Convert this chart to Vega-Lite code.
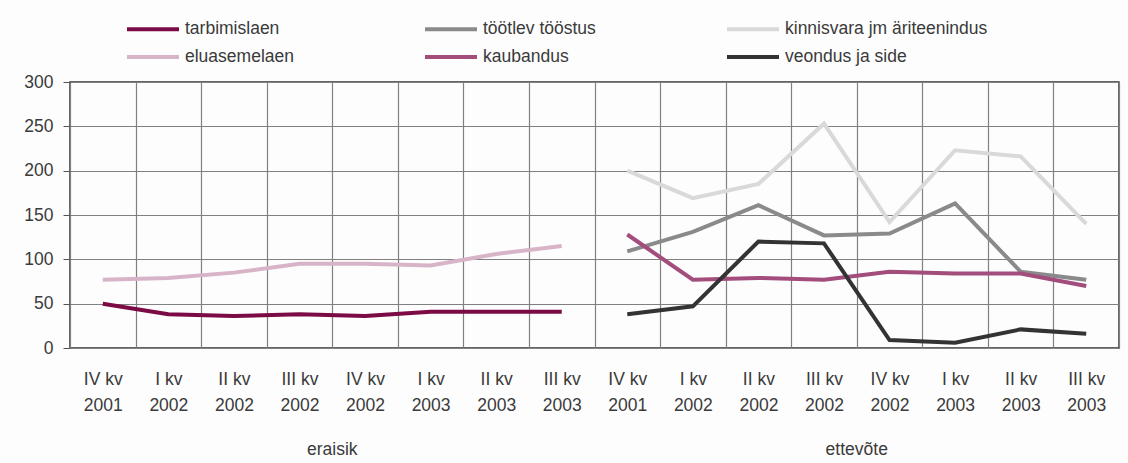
{
  "$schema": "https://vega.github.io/schema/vega-lite/v6.json",
  "width": 1049,
  "height": 266,
  "autosize": {"type": "none"},
  "padding": {"left": 70, "top": 82, "right": 9, "bottom": 115},
  "background": "#fdfdfd",
  "config": {
    "font": "Liberation Sans",
    "view": {"stroke": "#333333", "strokeWidth": 1.5},
    "axis": {"labelFont": "Liberation Sans", "labelFontSize": 17.5, "labelColor": "#3a3a3a", "domain": false, "gridColor": "#808080", "gridOpacity": 1, "gridWidth": 1.2},
    "legend": {"labelFont": "Liberation Sans", "labelFontSize": 17.5, "labelColor": "#3a3a3a"}
  },
  "datasets": {
    "lines": [
      {"series": "tarbimislaen", "k": "e|IV kv|2001", "v": 50},
      {"series": "tarbimislaen", "k": "e|I kv|2002", "v": 38},
      {"series": "tarbimislaen", "k": "e|II kv|2002", "v": 36},
      {"series": "tarbimislaen", "k": "e|III kv|2002", "v": 38},
      {"series": "tarbimislaen", "k": "e|IV kv|2002", "v": 36},
      {"series": "tarbimislaen", "k": "e|I kv|2003", "v": 41},
      {"series": "tarbimislaen", "k": "e|II kv|2003", "v": 41},
      {"series": "tarbimislaen", "k": "e|III kv|2003", "v": 41},
      {"series": "eluasemelaen", "k": "e|IV kv|2001", "v": 77},
      {"series": "eluasemelaen", "k": "e|I kv|2002", "v": 79},
      {"series": "eluasemelaen", "k": "e|II kv|2002", "v": 85},
      {"series": "eluasemelaen", "k": "e|III kv|2002", "v": 95},
      {"series": "eluasemelaen", "k": "e|IV kv|2002", "v": 95},
      {"series": "eluasemelaen", "k": "e|I kv|2003", "v": 93},
      {"series": "eluasemelaen", "k": "e|II kv|2003", "v": 106},
      {"series": "eluasemelaen", "k": "e|III kv|2003", "v": 115},
      {"series": "kinnisvara jm äriteenindus", "k": "t|IV kv|2001", "v": 200},
      {"series": "kinnisvara jm äriteenindus", "k": "t|I kv|2002", "v": 169},
      {"series": "kinnisvara jm äriteenindus", "k": "t|II kv|2002", "v": 185},
      {"series": "kinnisvara jm äriteenindus", "k": "t|III kv|2002", "v": 253},
      {"series": "kinnisvara jm äriteenindus", "k": "t|IV kv|2002", "v": 142},
      {"series": "kinnisvara jm äriteenindus", "k": "t|I kv|2003", "v": 223},
      {"series": "kinnisvara jm äriteenindus", "k": "t|II kv|2003", "v": 216},
      {"series": "kinnisvara jm äriteenindus", "k": "t|III kv|2003", "v": 140},
      {"series": "töötlev tööstus", "k": "t|IV kv|2001", "v": 109},
      {"series": "töötlev tööstus", "k": "t|I kv|2002", "v": 131},
      {"series": "töötlev tööstus", "k": "t|II kv|2002", "v": 161},
      {"series": "töötlev tööstus", "k": "t|III kv|2002", "v": 127},
      {"series": "töötlev tööstus", "k": "t|IV kv|2002", "v": 129},
      {"series": "töötlev tööstus", "k": "t|I kv|2003", "v": 163},
      {"series": "töötlev tööstus", "k": "t|II kv|2003", "v": 86},
      {"series": "töötlev tööstus", "k": "t|III kv|2003", "v": 77},
      {"series": "kaubandus", "k": "t|IV kv|2001", "v": 128},
      {"series": "kaubandus", "k": "t|I kv|2002", "v": 77},
      {"series": "kaubandus", "k": "t|II kv|2002", "v": 79},
      {"series": "kaubandus", "k": "t|III kv|2002", "v": 77},
      {"series": "kaubandus", "k": "t|IV kv|2002", "v": 86},
      {"series": "kaubandus", "k": "t|I kv|2003", "v": 84},
      {"series": "kaubandus", "k": "t|II kv|2003", "v": 84},
      {"series": "kaubandus", "k": "t|III kv|2003", "v": 70},
      {"series": "veondus ja side", "k": "t|IV kv|2001", "v": 38},
      {"series": "veondus ja side", "k": "t|I kv|2002", "v": 47},
      {"series": "veondus ja side", "k": "t|II kv|2002", "v": 120},
      {"series": "veondus ja side", "k": "t|III kv|2002", "v": 118},
      {"series": "veondus ja side", "k": "t|IV kv|2002", "v": 9},
      {"series": "veondus ja side", "k": "t|I kv|2003", "v": 6},
      {"series": "veondus ja side", "k": "t|II kv|2003", "v": 21},
      {"series": "veondus ja side", "k": "t|III kv|2003", "v": 16}
    ],
    "groups": [
      {"group": "eraisik", "k": "e|III kv|2002"},
      {"group": "ettevõte", "k": "t|III kv|2002"}
    ]
  },
  "encoding": {
    "x": {
      "field": "k",
      "type": "nominal",
      "scale": {
        "type": "band",
        "paddingInner": 0,
        "paddingOuter": 0,
        "domain": ["e|IV kv|2001", "e|I kv|2002", "e|II kv|2002", "e|III kv|2002", "e|IV kv|2002", "e|I kv|2003", "e|II kv|2003", "e|III kv|2003", "t|IV kv|2001", "t|I kv|2002", "t|II kv|2002", "t|III kv|2002", "t|IV kv|2002", "t|I kv|2003", "t|II kv|2003", "t|III kv|2003"]
      },
      "axis": {
        "title": null,
        "labelAngle": 0,
        "labelExpr": "[split(datum.label, '|')[1], split(datum.label, '|')[2]]",
        "labelLineHeight": 26,
        "labelPadding": 22,
        "ticks": false,
        "tickSize": 0,
        "tickBand": "extent",
        "grid": true
      }
    }
  },
  "layer": [
    {
      "data": {"name": "lines"},
      "mark": {"type": "line", "strokeWidth": 4},
      "encoding": {
        "y": {
          "field": "v",
          "type": "quantitative",
          "scale": {"domain": [0, 300], "nice": false},
          "axis": {"title": null, "values": [0, 50, 100, 150, 200, 250, 300], "tickSize": 7, "tickColor": "#555555", "labelPadding": 10, "grid": true}
        },
        "color": {
          "field": "series",
          "type": "nominal",
          "scale": {
            "domain": ["tarbimislaen", "töötlev tööstus", "kinnisvara jm äriteenindus", "eluasemelaen", "kaubandus", "veondus ja side"],
            "range": ["#7b0a45", "#8a8a8c", "#d9d9d9", "#d8b4c9", "#a24d7c", "#333333"]
          },
          "legend": {
            "title": null,
            "orient": "none",
            "direction": "horizontal",
            "legendX": 55,
            "legendY": -65,
            "columns": 3,
            "columnPadding": 123,
            "rowPadding": 7,
            "symbolType": "M-1,0H4.2",
            "symbolSize": 400,
            "symbolStrokeWidth": 4,
            "labelOffset": 36,
            "labelLimit": 400
          }
        },
        "order": {"field": "series"}
      }
    },
    {
      "data": {"name": "groups"},
      "mark": {"type": "text", "fontSize": 17.5, "color": "#3a3a3a", "baseline": "alphabetic", "align": "center", "dy": 107, "font": "Liberation Sans"},
      "encoding": {
        "x": {"field": "k", "type": "nominal", "bandPosition": 1},
        "y": {"datum": 0, "type": "quantitative"},
        "text": {"field": "group"}
      }
    }
  ]
}
